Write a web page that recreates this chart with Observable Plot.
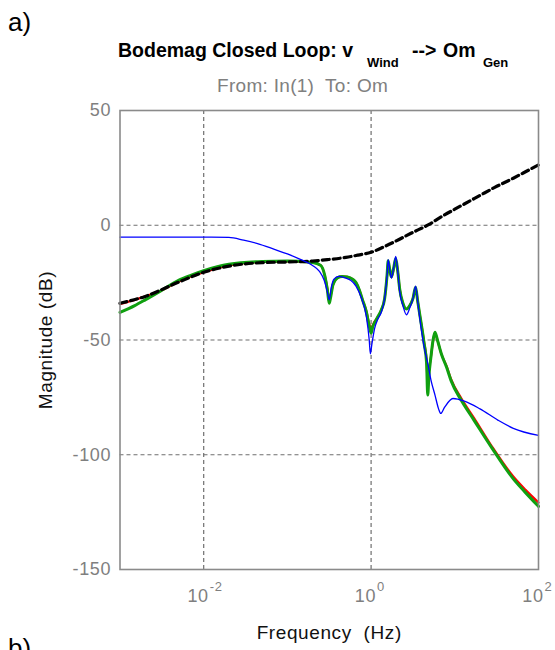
<!DOCTYPE html>
<html><head><meta charset="utf-8">
<script src="https://cdn.jsdelivr.net/npm/d3@7"></script>
<script src="https://cdn.jsdelivr.net/npm/@observablehq/plot@0.6"></script>
<style>
body{margin:0;background:#fff;overflow:hidden;}
#wrap{position:relative;width:555px;height:650px;overflow:hidden;font-family:"Liberation Sans",Arial,sans-serif;}
.abs{position:absolute;white-space:pre;line-height:1;}
.t{font-weight:bold;font-size:19.5px;color:#000;}
.s{font-weight:bold;font-size:13px;color:#000;}
#chart{position:absolute;left:0;top:100px;}
</style></head><body>
<div id="wrap">
  <div class="abs" style="left:8px;top:9px;font-size:26px;">a)</div>
  <div class="abs t" style="left:118px;top:40.5px;">Bodemag Closed Loop: v</div>
  <div class="abs s" style="left:367px;top:56px;">Wind</div>
  <div class="abs t" style="left:412px;top:40.5px;">--&gt;</div>
  <div class="abs t" style="left:443px;top:40.5px;">Om</div>
  <div class="abs s" style="left:483px;top:56px;">Gen</div>
  <div class="abs" style="left:217px;top:76px;font-size:19px;letter-spacing:0.3px;color:#808080;">From: In(1)  To: Om</div>
  <div id="chart"></div>
  <div class="abs" style="left:8px;top:635px;font-size:26px;">b)</div>
</div>
<script>
const xTicks = [0.01, 1, 100];
const xTickExp = ["-2", "0", "2"];
const xGrid = [0.01, 1];
const yTicks = [50, 0, -50, -100, -150];
const yGrid = [0, -50, -100];

const freqBlack = [0.001, 0.002, 0.005, 0.01, 0.02, 0.05, 0.1, 0.2, 0.3, 0.5, 0.7, 1, 1.5, 2, 3, 5, 7, 10, 15, 20, 30, 50, 70, 100];
const magBlack  = [-34, -31, -24.8, -20.5, -17.8, -16.3, -16, -15.6, -15, -14, -13, -11.8, -9, -6.8, -3.5, 0.5, 3.8, 7, 10.5, 13, 16.5, 20.5, 23.3, 26.3];

const freqRG = [0.001,0.0015,0.002,0.003,0.005,0.007,0.01,0.02,0.05,0.1,0.2,0.25,0.28,0.3,0.316,0.33,0.35,0.4,0.45,0.52,0.6,0.66,0.72,0.79,0.88,0.95,1.0,1.05,1.1,1.2,1.32,1.45,1.55,1.6,1.68,1.75,1.85,1.97,2.08,2.2,2.4,2.64,2.9,3.16,3.4,3.6,3.8,4.3,4.6,4.75,4.9,5.2,5.5,5.8,6.2,6.9,8,9,12,17,27.7,50,70,100];
const magGreen = [-38,-35,-32.5,-28.8,-24,-21.8,-19.8,-17,-15.8,-15.6,-16.2,-17.5,-22,-28,-34,-31,-26,-22.8,-22.3,-22.5,-23.5,-25,-28,-32.5,-38,-44,-47,-44,-42.5,-40,-37,-32,-22,-15.5,-20,-22.5,-19,-14.5,-20,-28,-34,-36.5,-35,-32,-27,-33,-38.5,-51.5,-60,-74,-66,-57,-50,-46.6,-50,-56,-62,-67.6,-76.4,-85,-97,-110.5,-116.5,-122.5];
const magRed   = [-34.3,-32.5,-31,-28.7,-24.6,-22.3,-20.5,-17.5,-15.9,-15.7,-16.2,-17.5,-22,-27.5,-32.5,-30.5,-26,-22.8,-22.3,-22.5,-23.5,-25,-28,-32.5,-37.5,-43,-45,-43.5,-42,-40,-37,-32,-22,-16,-20,-22.5,-19.5,-15,-20,-28,-34,-36.5,-35,-32,-27.5,-33,-38.5,-51,-59,-70,-64,-57,-50.5,-47,-50,-56,-61.5,-67,-75.5,-84,-96.3,-109.5,-115.3,-120.8];

const freqBlue = [0.001,0.01,0.02,0.03,0.044,0.07,0.1,0.145,0.2,0.24,0.275,0.3,0.316,0.335,0.36,0.41,0.5,0.57,0.66,0.76,0.88,0.95,0.98,1.02,1.1,1.2,1.32,1.45,1.55,1.6,1.68,1.75,1.85,1.97,2.08,2.2,2.4,2.64,2.9,3.16,3.4,3.6,3.8,4.3,4.8,5.2,5.8,6.4,6.8,7.5,9.5,13,20,33,50,100];
const magBlue  = [-5.2,-5.2,-5.3,-6.5,-8,-10.5,-12.5,-15,-17.5,-20,-24,-29,-32.5,-27,-23.5,-22.3,-23,-24,-26.5,-31.4,-40,-50,-56,-52,-45,-41,-38,-32,-22,-15,-20,-23,-19,-13.6,-20,-29,-35,-39,-36,-32,-26.5,-33,-40,-53,-61,-67.6,-74,-80,-82,-79.5,-75.5,-76.6,-80,-85,-88.5,-91.6];

const rows = (f, m) => f.map((x, i) => ({f: x, m: m[i]}));

const chart = Plot.plot({
  width: 555, height: 550,
  marginTop: 10, marginBottom: 81, marginLeft: 119.5, marginRight: 17,
  style: {fontFamily: "Liberation Sans, Arial, sans-serif", background: "transparent", letterSpacing: "0.6px"},
  x: {type: "log", domain: [1e-3, 1e2], axis: null},
  y: {domain: [-150, 50], axis: null},
  marks: [
    Plot.gridX(xGrid, {stroke: "#6f6f6f", strokeOpacity: 1, strokeDasharray: "4,3", strokeWidth: 1.2}),
    Plot.gridY(yGrid, {stroke: "#6f6f6f", strokeOpacity: 1, strokeDasharray: "4,3", strokeWidth: 1.2}),
    Plot.axisY(yTicks, {tickSize: 0, tickPadding: 9, fontSize: 18, color: "#7f7f7f", label: null, tickFormat: d => String(d)}),
    Plot.text(xTicks, {x: d => d, frameAnchor: "bottom", text: () => "10", textAnchor: "end", lineAnchor: "middle", dx: 5, dy: 27, fontSize: 18, fill: "#7f7f7f"}),
    Plot.text(xTicks, {x: d => d, frameAnchor: "bottom", text: (d, i) => xTickExp[i], textAnchor: "start", lineAnchor: "middle", dx: 6, dy: 17, fontSize: 13, fill: "#7f7f7f"}),
    Plot.line(rows(freqRG, magRed), {x: "f", y: "m", stroke: "#ff0000", strokeWidth: 2.2, curve: "monotone-x"}),
    Plot.line(rows(freqRG, magGreen), {x: "f", y: "m", stroke: "#10a010", strokeWidth: 3, curve: "monotone-x"}),
    Plot.line(rows(freqBlack, magBlack), {x: "f", y: "m", stroke: "#000", strokeWidth: 3.2, strokeDasharray: "7,4", curve: "monotone-x"}),
    Plot.line(rows(freqBlue, magBlue), {x: "f", y: "m", stroke: "#0000ff", strokeWidth: 1.3, curve: "monotone-x"}),
    Plot.frame({stroke: "#8a8a8a", strokeWidth: 1.6}),
    Plot.text(["Frequency  (Hz)"], {frameAnchor: "bottom", textAnchor: "middle", lineAnchor: "middle", dy: 63, fontSize: 19, fill: "#111"}),
    Plot.text(["Magnitude (dB)"], {frameAnchor: "left", textAnchor: "middle", lineAnchor: "middle", rotate: -90, dx: -74.5, fontSize: 19, fill: "#111"})
  ]
});
document.getElementById("chart").appendChild(chart);
</script>
</body></html>
